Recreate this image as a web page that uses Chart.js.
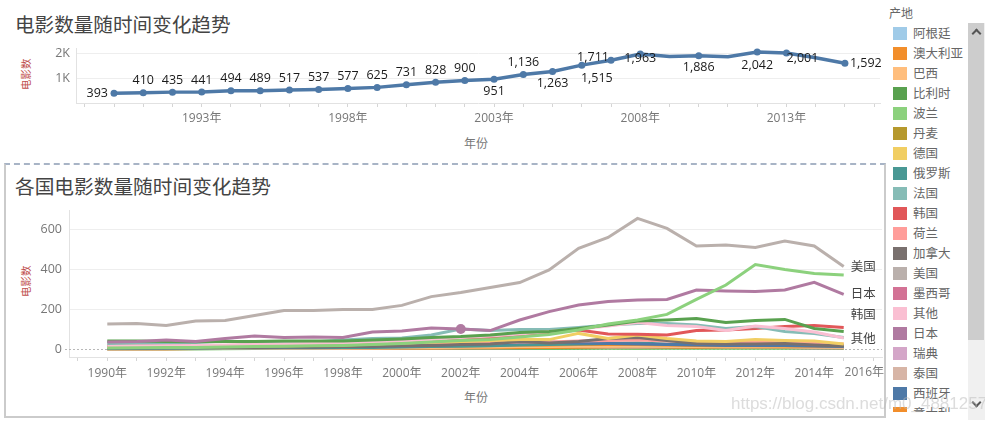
<!DOCTYPE html>
<html><head><meta charset="utf-8">
<script src="https://cdn.jsdelivr.net/npm/chart.js@4/dist/chart.umd.min.js"></script>
<style>
body{margin:0;width:985px;height:423px;background:#fff;position:relative;overflow:hidden;font-family:'Noto Sans CJK SC',sans-serif;}
.abs{position:absolute;}
.vt{transform:rotate(-90deg);transform-origin:center center;white-space:nowrap;}
#legendList{position:absolute;left:888px;top:23px;width:79px;height:389px;overflow:hidden;}
.li{position:relative;height:20px;}
.sw{position:absolute;left:5px;top:4px;width:14px;height:13px;}
.lt{position:absolute;left:25px;top:0;line-height:20px;font-size:12.5px;color:#666;white-space:nowrap;}
</style></head><body>

<div class="abs" style="left:15px;top:10px;font-size:19.6px;line-height:28px;color:#444;">电影数量随时间变化趋势</div>
<div class="abs vt" style="left:11px;top:68px;width:30px;height:14px;font-size:10.5px;line-height:14px;color:#c0504d;text-align:center;">电影数</div>
<div class="abs" style="left:456px;top:134px;width:40px;text-align:center;font-size:12px;line-height:18px;color:#777;">年份</div>
<canvas id="c1" class="abs" style="left:0;top:0;width:885px;height:160px;"></canvas>

<div class="abs" style="left:4px;top:163px;width:878px;height:251px;border:2px solid #cbcbcb;border-top:2px dashed #a8b4c6;"></div>
<div class="abs" style="left:15px;top:172px;font-size:19.7px;line-height:28px;color:#444;">各国电影数量随时间变化趋势</div>
<div class="abs vt" style="left:11px;top:275px;width:30px;height:14px;font-size:10.5px;line-height:14px;color:#c0504d;text-align:center;">电影数</div>
<div class="abs" style="left:456px;top:388px;width:40px;text-align:center;font-size:12px;line-height:18px;color:#777;">年份</div>
<canvas id="c2" class="abs" style="left:0;top:195px;width:886px;height:205px;"></canvas>

<div class="abs" style="left:889px;top:4px;font-size:12px;line-height:18px;color:#666;">产地</div>
<div id="legendList"></div>
<div class="abs" style="left:968px;top:23px;width:17px;height:397px;background:#f0f0f0;"></div>
<div class="abs" style="left:968px;top:23px;width:16px;height:317px;background:#cdcdcd;"></div>
<div class="abs" style="left:973px;top:30px;width:5px;height:5px;border-left:2px solid #555;border-top:2px solid #555;transform:rotate(45deg);"></div>
<div class="abs" style="left:973px;top:399px;width:5px;height:5px;border-left:2px solid #555;border-top:2px solid #555;transform:rotate(225deg);"></div>

<div class="abs" style="left:731px;top:393px;font-family:'Liberation Sans',sans-serif;font-size:17px;line-height:22px;color:rgba(185,185,185,0.5);z-index:10;white-space:nowrap;pointer-events:none;">https://blog.csdn.net/m0_48812571</div>

<script>
// ---------- data ----------
const years = [1990,1991,1992,1993,1994,1995,1996,1997,1998,1999,2000,2001,2002,2003,2004,2005,2006,2007,2008,2009,2010,2011,2012,2013,2014,2015];
const totalFilms = [393,410,435,441,494,489,517,537,577,625,731,828,900,951,1136,1263,1515,1711,1963,1860,1886,1850,2042,2001,1810,1592];
const unlabeledYears = [2009,2011,2014];
const topTickYears = [1993,1998,2003,2008,2013];
const bottomTickYears = [1990,1992,1994,1996,1998,2000,2002,2004,2006,2008,2010,2012,2014,2016];

const argentina = [0,1,3,3,3,3,4,4,4,5,5,5,6,6,7,7,8,8,8,8,8,8,8,8,8,7];
const australia = [0,0,0,2,2,3,3,3,4,4,5,5,6,6,8,8,10,12,14,12,10,12,12,12,13,14];
const brazil = [2,2,3,3,4,4,5,5,6,6,8,8,10,10,12,12,14,14,16,14,12,12,12,12,10,10];
const belgium = [1,1,1,1,2,2,2,2,3,3,3,4,4,4,5,5,5,6,6,6,6,6,6,6,5,5];
const poland = [1,1,1,1,1,2,2,2,2,2,3,3,3,3,3,3,4,4,3,4,4,4,4,4,4,4];
const denmark = [2,2,2,3,3,3,3,4,4,5,5,6,6,7,8,8,9,10,10,9,9,8,8,8,7,6];
const germany = [10,10,12,12,14,15,16,18,20,25,30,35,38,42,48,47,78,53,70,53,40,38,48,43,40,25];
const russia = [3,3,4,4,5,5,6,6,8,8,10,12,14,16,20,22,25,28,30,25,28,25,22,20,18,15];
const france = [28,30,30,32,40,32,30,35,45,52,55,70,100,92,98,98,108,120,128,128,120,103,112,87,78,58];
const korea = [15,15,16,18,18,20,22,25,28,32,35,40,45,55,70,82,95,75,74,70,92,95,103,112,118,108];
const netherlands = [8,10,12,12,15,18,20,18,20,18,22,25,28,30,35,35,40,42,45,40,38,35,35,30,28,25];
const canada = [5,5,6,6,8,8,10,10,12,14,16,18,22,25,37,30,37,52,58,43,28,25,25,28,20,15];
const usa = [125,128,117,140,143,167,192,192,198,198,218,262,282,308,332,395,503,558,653,603,515,520,508,540,515,412];
const mexico = [2,2,3,3,3,3,4,4,4,5,5,5,6,6,6,7,7,7,8,8,8,7,7,7,6,6];
const others = [12,14,16,18,20,22,25,28,30,35,40,48,58,65,75,88,100,115,132,118,113,92,115,103,85,55];
const japan = [35,38,45,37,53,65,58,60,58,85,90,105,100,92,145,187,220,237,245,248,295,290,287,295,333,273];
const sweden = [3,3,3,4,4,4,5,5,5,6,6,6,7,7,8,8,8,9,9,8,8,8,7,7,6,6];
const thailand = [1,1,1,2,2,2,3,3,4,5,6,8,10,12,14,15,16,15,14,12,12,10,10,10,9,8];
const spain = [5,6,6,7,8,8,10,10,12,14,16,18,22,28,32,35,30,28,25,22,20,18,18,18,15,12];
const italy = [8,8,9,9,10,10,10,11,12,12,14,15,16,18,20,20,22,24,22,20,18,16,16,15,14,12];
const chinaMainland = [5,6,8,8,10,12,14,16,18,22,28,35,42,48,60,72,95,125,145,173,248,320,422,398,378,370];
const hongKong = [40,40,38,36,38,38,40,40,40,45,50,58,62,70,82,87,103,120,140,145,153,132,143,148,103,87];

const countryNames = ['阿根廷','澳大利亚','巴西','比利时','波兰','丹麦','德国','俄罗斯','法国','韩国','荷兰','加拿大','美国','墨西哥','其他','日本','瑞典','泰国','西班牙','意大利','中国大陆','中国香港'];
const countrySeries = [argentina,australia,brazil,belgium,poland,denmark,germany,russia,france,korea,netherlands,canada,usa,mexico,others,japan,sweden,thailand,spain,italy,chinaMainland,hongKong];
const countryColors = ['#A0CBE8','#F28E2B','#FFBE7D','#59A14F','#8CD17D','#B6992D','#F1CE63','#499894','#86BCB6','#E15759','#FF9D9A','#79706E','#BAB0AC','#D37295','#FABFD2','#B07AA1','#D4A6C8','#D7B5A6','#4E79A7','#F28E2B','#8CD17D','#59A14F'];
const endLabels = [['美国',0],['日本',-1],['韩国',-13],['其他',0]];
const highlight = {name:'日本', year:2002};

// label placement for the top chart: [align, dx, dy]
const labelPlace = {1990:['right',-6,0],2003:['center',0,12],2005:['center',0,12],2006:['center',15,13],2007:['center',-18,-3],2008:['center',0,5],2010:['center',0,12],2012:['center',0,13],2013:['center',16,5],2015:['left',5,0]};

// ---------- legend ----------
const ll = document.getElementById('legendList');
countryNames.forEach((n,i)=>{
  const d=document.createElement('div'); d.className='li';
  d.innerHTML='<div class="sw" style="background:'+countryColors[i]+'"></div><div class="lt">'+n+'</div>';
  ll.appendChild(d);
});

Chart.defaults.font.family = "'Open Sans','Noto Sans CJK SC',sans-serif";
Chart.defaults.animation = false;
const tickMarks = [];
for (let y = years[0]-1; y <= years[years.length-1]+1; y++) tickMarks.push(y);

// ---------- top chart ----------
const topLabels = {id:'topLabels', afterDatasetsDraw(chart){
  const ctx=chart.ctx, meta=chart.getDatasetMeta(0);
  ctx.save(); ctx.font="12.5px 'Open Sans'"; ctx.fillStyle='#1a1a1a'; ctx.textBaseline='middle';
  meta.data.forEach((pt,i)=>{
    const yr=years[i]; if(unlabeledYears.includes(yr)) return;
    const p=labelPlace[yr]||['center',0,-12];
    ctx.textAlign=p[0];
    ctx.fillText(totalFilms[i].toLocaleString('en-US'), pt.x+p[1], pt.y+p[2]);
  });
  ctx.restore();
}};

new Chart(document.getElementById('c1'), {
  type:'line',
  data:{datasets:[{
    data: years.map((y,i)=>({x:y,y:totalFilms[i]})),
    borderColor:'#4E79A7', backgroundColor:'#4E79A7', borderWidth:3.5, tension:0,
    pointRadius: c=> unlabeledYears.includes(years[c.dataIndex]) ? 0 : 3.5,
    pointBorderWidth:0, pointBackgroundColor:'#4E79A7'
  }]},
  options:{
    responsive:false, events:[],
    layout:{padding:{left:0,right:5,top:48,bottom:0}},
    plugins:{legend:{display:false},tooltip:{enabled:false}},
    scales:{
      x:{type:'linear',min:1988.7,max:2016.2,
        afterBuildTicks:s=>{s.ticks=tickMarks.map(v=>({value:v}));},
        ticks:{autoSkip:false,maxRotation:0,padding:4,color:'#777',font:{size:12},callback:v=> topTickYears.includes(v)? v+'年':''},
        grid:{drawOnChartArea:false,tickLength:4,color:'#d5d5d5'},
        border:{color:'#e2e2e2'},
        afterFit:s=>{s.height=57;}},
      y:{min:0,max:2200,
        afterBuildTicks:s=>{s.ticks=[0,1000,2000].map(v=>({value:v}));},
        ticks:{padding:6,color:'#777',font:{size:12.5},callback:v=> v? (v/1000)+'K':''},
        grid:{drawTicks:false,color:c=> (c.tick && c.tick.value===0)?'rgba(0,0,0,0)':'#eeeeee'},
        border:{color:'#e2e2e2'},
        afterFit:s=>{s.width=76;}}
    }
  },
  plugins:[topLabels]
});

// ---------- bottom chart ----------
const zeroLine = {id:'zeroLine', beforeDatasetsDraw(chart){
  const ctx=chart.ctx, ys=chart.scales.y, a=chart.chartArea, y=Math.round(ys.getPixelForValue(0))+0.5;
  ctx.save(); ctx.strokeStyle='#b8b8b8'; ctx.lineWidth=1; ctx.setLineDash([2,2]);
  ctx.beginPath(); ctx.moveTo(a.left-4,y); ctx.lineTo(a.right,y); ctx.stroke(); ctx.restore();
}};
const endLabelPlugin = {id:'endLabels', afterDatasetsDraw(chart){
  const ctx=chart.ctx;
  ctx.save(); ctx.font="12.5px 'Noto Sans CJK SC'"; ctx.fillStyle='#444'; ctx.textBaseline='middle'; ctx.textAlign='left';
  endLabels.forEach(([name,dy])=>{
    const idx=countryNames.indexOf(name); const meta=chart.getDatasetMeta(idx);
    const pt=meta.data[meta.data.length-1];
    ctx.fillText(name, pt.x+7, pt.y+dy);
  });
  ctx.restore();
}};
const lastTick = {id:'lastTick', afterDraw(chart){
  const xs=chart.scales.x, ctx=chart.ctx;
  ctx.save(); ctx.font="12px 'Open Sans','Noto Sans CJK SC'"; ctx.fillStyle='#777'; ctx.textAlign='right'; ctx.textBaseline='top';
  ctx.fillText(bottomTickYears[bottomTickYears.length-1]+'年', chart.chartArea.right+2, xs.top+4+5+1);
  ctx.restore();
}};

new Chart(document.getElementById('c2'), {
  type:'line',
  data:{datasets: countryNames.map((n,i)=>({
    label:n,
    data: years.map((y,j)=>({x:y,y:countrySeries[i][j]})),
    borderColor:countryColors[i], backgroundColor:countryColors[i], borderWidth:3, tension:0,
    order: -Math.max(...countrySeries[i]),
    pointRadius: c=> (n===highlight.name && years[c.dataIndex]===highlight.year) ? 5 : 0,
    pointBorderWidth:0, pointBackgroundColor:countryColors[i]
  }))},
  options:{
    responsive:false, events:[],
    layout:{padding:{left:0,right:4,top:15,bottom:0}},
    plugins:{legend:{display:false},tooltip:{enabled:false}},
    scales:{
      x:{type:'linear',min:1988.7,max:2016.3,
        afterBuildTicks:s=>{s.ticks=tickMarks.map(v=>({value:v}));},
        ticks:{autoSkip:false,maxRotation:0,padding:5,color:'#777',font:{size:12},
          callback:v=> (bottomTickYears.includes(v) && v!==bottomTickYears[bottomTickYears.length-1])? v+'年':''},
        grid:{drawOnChartArea:false,tickLength:4,color:'#d5d5d5'},
        border:{color:'#e2e2e2'},
        afterFit:s=>{s.height=43;}},
      y:{min:-40,max:695,
        afterBuildTicks:s=>{s.ticks=[0,200,400,600].map(v=>({value:v}));},
        ticks:{padding:7,color:'#777',font:{size:12.5}},
        grid:{drawTicks:false,color:c=> (c.tick && c.tick.value===0)?'rgba(0,0,0,0)':'#eeeeee'},
        border:{color:'#e2e2e2'},
        afterFit:s=>{s.width=69;}}
    }
  },
  plugins:[zeroLine,endLabelPlugin,lastTick]
});
</script>
</body></html>
